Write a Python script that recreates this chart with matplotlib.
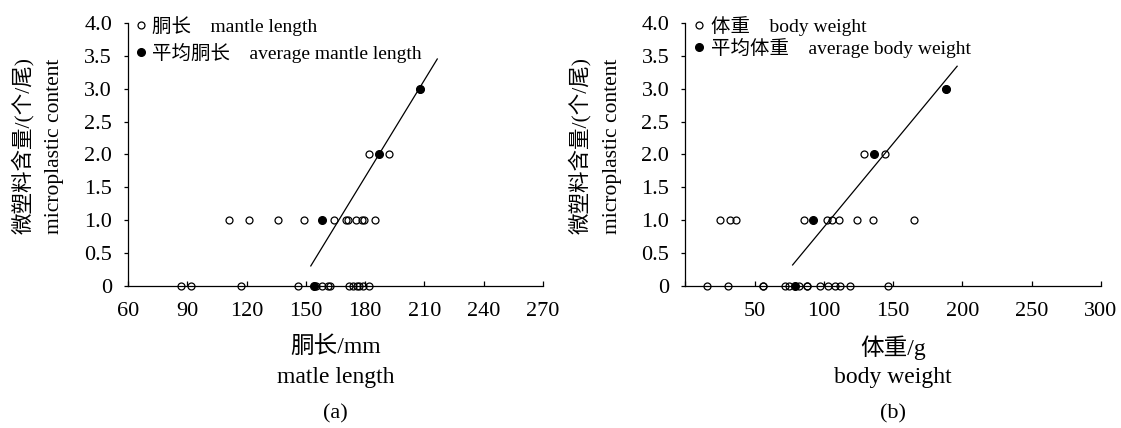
import numpy as np
import matplotlib
matplotlib.use('Agg')
import matplotlib.pyplot as plt

plt.rcParams['font.family'] = ['Liberation Serif', 'Noto Sans CJK SC']

# 微塑料个数 (个/尾)
counts = [0, 1, 2, 3]

# (a) 胴长 mm, 按微塑料个数分组
mantle_0 = [87, 92, 117, 146, 155, 158, 161, 162, 172, 174, 176, 177, 179, 182]
mantle_1 = [111, 121, 136, 149, 164, 170.5, 171.5, 175.5, 178.5, 179.5, 185]
mantle_2 = [182, 192]
mantle_3 = [208]
avg_mantle = [154, 158.4, 187, 208]
fit_range_mantle = [152.5, 216.5]

# (b) 体重 g
weight_0 = [16, 31, 56, 56, 72, 75, 82, 88, 88, 97, 103, 108, 112, 119, 146]
weight_1 = [25, 32, 37, 86, 102, 106, 111, 124, 135.5, 165]
weight_2 = [129, 144]
weight_3 = [188]
avg_weight = [79.3, 92.1, 136.4, 188]
fit_range_weight = [77.5, 196.2]

yticks = [0, 0.5, 1, 1.5, 2, 2.5, 3, 3.5, 4]
ytick_labels = ['0', '0.5', '1.0', '1.5', '2.0', '2.5', '3.0', '3.5', '4.0']
xticks_a = [60, 90, 120, 150, 180, 210, 240, 270]
xticks_b = [0, 50, 100, 150, 200, 250, 300]
xtick_labels_b = ['', '50', '100', '150', '200', '250', '300']

W, H = 1121, 428
fig = plt.figure(figsize=(W / 100, H / 100), dpi=100)


def px_axes(left, right, top, bottom):
    return fig.add_axes([left / W, 1 - bottom / H, (right - left) / W, (bottom - top) / H])


def draw_panel(ax, groups, avgs, fit_range, xlim, xticks, xlabels, leg_labels, leg_anchor, leg_spacing):
    xs = np.concatenate([np.array(g, dtype=float) for g in groups])
    ys = np.concatenate([np.full(len(g), c, dtype=float) for g, c in zip(groups, counts)])
    ax.plot(xs, ys, 'o', ms=5, mfc='none', mec='black', mew=0.9, ls='none',
            clip_on=False, zorder=3, label=leg_labels[0])
    ax.plot(avgs, counts, 'o', ms=5.5, mfc='black', mec='black', ls='none',
            clip_on=False, zorder=4, label=leg_labels[1])

    # 平均值的线性拟合
    k, b = np.polyfit(avgs, counts, 1)
    fx = np.array(fit_range)
    ax.plot(fx, k * fx + b, color='black', lw=0.9, zorder=2)

    ax.set_xlim(*xlim)
    ax.set_ylim(0, 4)
    ax.set_xticks(xticks)
    ax.set_xticklabels(xlabels)
    ax.set_yticks(yticks)
    ax.set_yticklabels(ytick_labels)
    for s in ['top', 'right']:
        ax.spines[s].set_visible(False)
    for s in ['left', 'bottom']:
        ax.spines[s].set_linewidth(0.9)
    ax.tick_params(axis='y', direction='out', length=3, width=0.9, pad=8.5, labelsize=16)
    ax.tick_params(axis='x', direction='in', length=3.5, width=0.9, pad=11.5, labelsize=16)

    ax.legend(loc='upper left', bbox_to_anchor=(leg_anchor[0] / W, 1 - leg_anchor[1] / H),
              bbox_transform=fig.transFigure, frameon=False, fontsize=14,
              borderpad=0, handlelength=0.6, handletextpad=0.3,
              labelspacing=leg_spacing, borderaxespad=0)


ax_a = px_axes(128, 543, 23, 285.7)
ax_b = px_axes(685.2, 1101, 23, 285.7)

draw_panel(ax_a, [mantle_0, mantle_1, mantle_2, mantle_3], avg_mantle, fit_range_mantle,
           (60, 270), xticks_a, [str(t) for t in xticks_a],
           ['胴长\u3000mantle length', '平均胴长\u3000average mantle length'],
           (135, 16), 0.35)
draw_panel(ax_b, [weight_0, weight_1, weight_2, weight_3], avg_weight, fit_range_weight,
           (0, 300), xticks_b, xtick_labels_b,
           ['体重\u3000body weight', '平均体重\u3000average body weight'],
           (693.5, 16), 0.1)

# 坐标轴标题
for ax, x0, cn, en, tag in [(ax_a, 128, '胴长/mm', 'matle length', '(a)'),
                            (ax_b, 685.2, '体重/g', 'body weight', '(b)')]:
    cx = (x0 + x0 + 415.5) / 2 / W
    fig.text(cx, 1 - 348 / H, cn, ha='center', va='center', fontsize=17)
    fig.text(cx, 1 - 377 / H, en, ha='center', va='center', fontsize=17)
    fig.text(cx, 1 - 414 / H, tag, ha='center', va='center', fontsize=16)
    fig.text((x0 - 105) / W, 1 - 145 / H, '微塑料含量/(个/尾)', rotation=90,
             ha='center', va='center', fontsize=15.5)
    fig.text((x0 - 73) / W, 1 - 146 / H, 'microplastic content', rotation=90,
             ha='center', va='center', fontsize=15.5)

fig.savefig('out.png', dpi=100)
